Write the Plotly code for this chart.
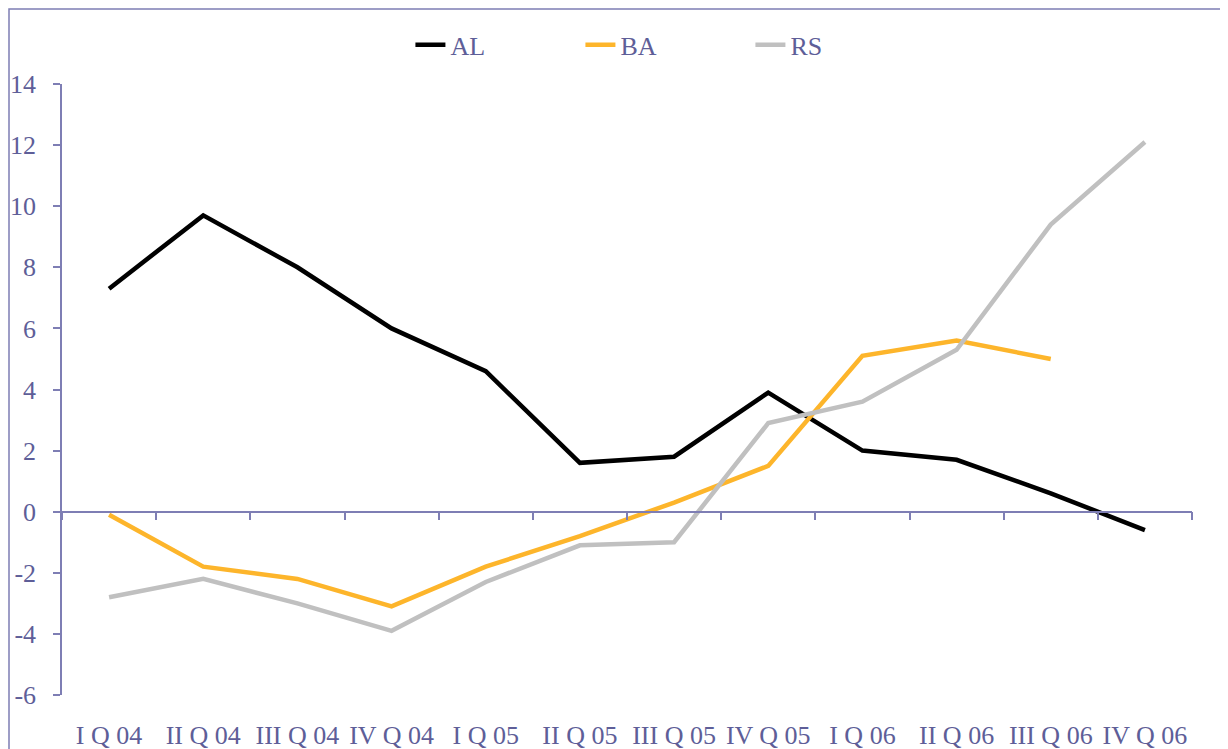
import plotly.graph_objects as go

quarters = ["I Q 04", "II Q 04", "III Q 04", "IV Q 04",
            "I Q 05", "II Q 05", "III Q 05", "IV Q 05",
            "I Q 06", "II Q 06", "III Q 06", "IV Q 06"]
al = [7.3, 9.7, 8.0, 6.0, 4.6, 1.6, 1.8, 3.9, 2.0, 1.7, 0.6, -0.6]
ba = [-0.1, -1.8, -2.2, -3.1, -1.8, -0.8, 0.3, 1.5, 5.1, 5.6, 5.0, None]
rs = [-2.8, -2.2, -3.0, -3.9, -2.3, -1.1, -1.0, 2.9, 3.6, 5.3, 9.4, 12.1]

y_ticks = list(range(-6, 15, 2))
y_labels = [str(v) for v in y_ticks]   # plain hyphen, not unicode minus

TEXT = "#5E5E98"
AXIS = "#7E7EB4"
FONT = "Liberation Serif, Times New Roman, serif"

# the page body adds an 8px margin, so the figure is 8px smaller
W, H = 1220, 741
M = dict(l=54, r=36, t=76, b=54)

fig = go.Figure()
# AL sits on the bottom (label) axis, the others on the y=0 axis,
# so both axes get drawn; they share the same category range.
for name, vals, col, xa in [("AL", al, "#000000", "x"),
                            ("BA", ba, "#FDB52B", "x2"),
                            ("RS", rs, "#C0C0C0", "x2")]:
    fig.add_trace(go.Scatter(x=quarters, y=vals, name=name, mode="lines",
                             line=dict(color=col, width=4.5), xaxis=xa))

ymin, ymax = -6, 14
fig.update_layout(
    width=W, height=H, margin=M,
    plot_bgcolor="white", paper_bgcolor="white",
    font=dict(family=FONT, color=TEXT, size=26),
    showlegend=True,
    legend=dict(orientation="h", x=0.534, xanchor="center",
                y=1.064, yanchor="middle",
                font=dict(size=26, color=TEXT),
                entrywidth=125, entrywidthmode="pixels"),
    xaxis=dict(type="category", categoryarray=quarters,
               range=[-0.5, len(quarters) - 0.5],
               showline=False, showgrid=False, zeroline=False,
               ticks="", ticklabelstandoff=22, automargin=False,
               tickfont=dict(size=26, color=TEXT)),
    xaxis2=dict(type="category", categoryarray=quarters,
                range=[-0.5, len(quarters) - 0.5],
                overlaying="x", anchor="free",
                position=(0 - ymin) / (ymax - ymin),
                showline=True, linecolor=AXIS, linewidth=1.5,
                ticks="outside", tickson="boundaries", ticklen=8,
                tickcolor=AXIS, tickwidth=1.5, automargin=False,
                showticklabels=False, showgrid=False, zeroline=False),
    yaxis=dict(range=[ymin, ymax], tickvals=y_ticks, ticktext=y_labels,
               showline=True, linecolor=AXIS, linewidth=1.5,
               ticks="outside", ticklen=7, tickcolor=AXIS, tickwidth=1.5,
               showgrid=False, zeroline=False, ticklabelstandoff=12,
               automargin=False,
               tickfont=dict(size=26, color=TEXT)),
)

# chart frame (only top and left edges fall inside the picture)
pw = W - M["l"] - M["r"]
ph = H - M["t"] - M["b"]
fig.add_shape(type="rect", xref="paper", yref="paper",
              x0=(1 - M["l"]) / pw, x1=(W + 20 - M["l"]) / pw,
              y0=-(M["b"] + 20) / ph, y1=1 + (M["t"] - 1) / ph,
              line=dict(color=AXIS, width=1.5), layer="below")

fig.write_html("out.html")
